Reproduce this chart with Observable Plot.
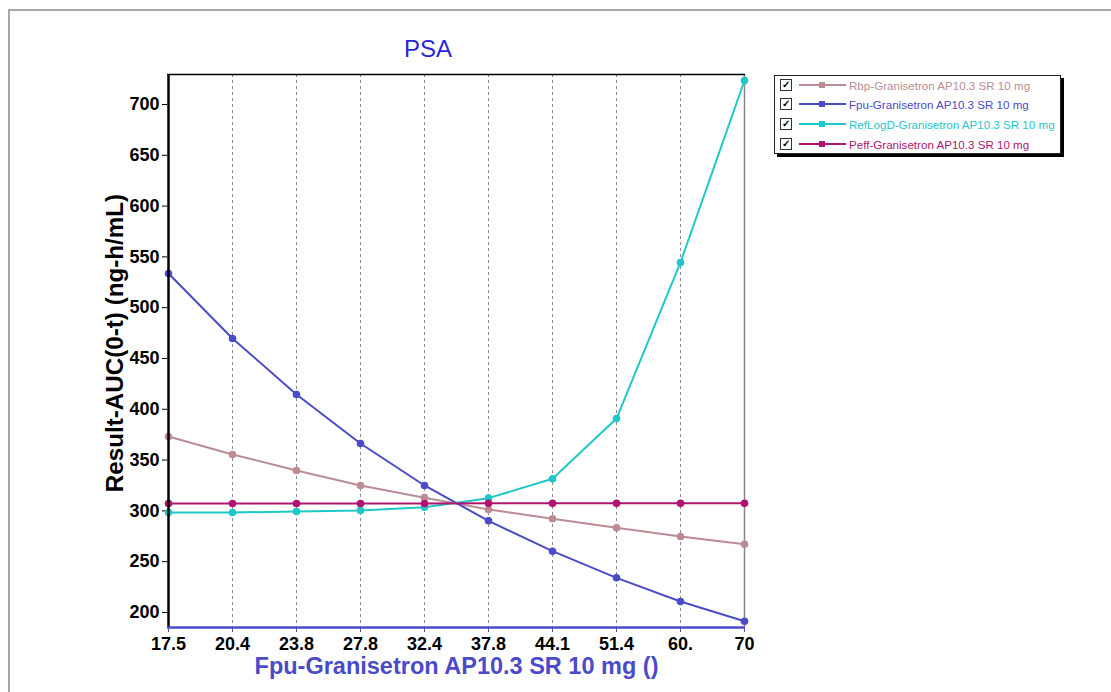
<!DOCTYPE html>
<html>
<head>
<meta charset="utf-8">
<script src="https://cdn.jsdelivr.net/npm/d3@7"></script>
<script src="https://cdn.jsdelivr.net/npm/@observablehq/plot@0.6"></script>
<style>
  html, body { margin: 0; padding: 0; background: #fff; }
  body { width: 1111px; height: 692px; position: relative; overflow: hidden; font-family: "Liberation Sans", Arial, sans-serif; }
  #frame { position: absolute; left: 8px; top: 9px; width: 1200px; height: 800px; border-left: 2px solid #a8a8a8; border-top: 2px solid #a8a8a8; }
  #chart { position: absolute; left: 0; top: 0; }
  #title { position: absolute; left: 328px; width: 200px; top: 35px; text-align: center; font-size: 24px; color: #2828d8; }
  #legend { position: absolute; left: 774px; top: 75px; width: 285px; height: 77px; border: 1px solid #222; background: #fff; box-shadow: 3px 3px 0 #000; font-size: 11.6px; }
  .row { position: absolute; left: 5px; height: 14px; display: flex; align-items: center; }
  .cb { width: 10px; height: 10px; border: 1px solid #333; position: relative; background: #fff; font-size: 10px; line-height: 10px; text-align: center; font-weight: bold; color: #000; }
  .sw { width: 47px; height: 14px; margin-left: 7px; position: relative; }
  .sw .ln { position: absolute; left: 0; right: 0; top: 6px; height: 2px; }
  .sw .mk { position: absolute; left: 20px; top: 4px; width: 6px; height: 6px; }
  .lab { margin-left: 3px; white-space: nowrap; }
</style>
</head>
<body>
<div id="frame"></div>
<div id="chart"></div>
<div id="title">PSA</div>
<div id="legend"></div>
<script>
// ---- data ----
const xValues = [17.5, 20.4, 23.8, 27.8, 32.4, 37.8, 44.1, 51.4, 60, 70];
const xTickLabels = ["17.5", "20.4", "23.8", "27.8", "32.4", "37.8", "44.1", "51.4", "60.", "70"];
const yTicks = [200, 250, 300, 350, 400, 450, 500, 550, 600, 650, 700];
const yDomain = [185.2, 729.5];

const seriesNames = [
  "Rbp-Granisetron AP10.3 SR 10 mg",
  "Fpu-Granisetron AP10.3 SR 10 mg",
  "RefLogD-Granisetron AP10.3 SR 10 mg",
  "Peff-Granisetron AP10.3 SR 10 mg"
];
const seriesColors = ["#bc8c94", "#4b4bc8", "#1ec8c8", "#b0146e"];

const rbpValues = [373.2, 355.5, 339.8, 325.0, 313.0, 301.4, 292.2, 283.4, 274.8, 267.2];
const fpuValues = [533.7, 469.7, 414.6, 366.3, 325.0, 290.2, 260.3, 234.1, 210.8, 191.4];
const refLogDValues = [298.4, 298.4, 299.4, 300.4, 303.6, 312.5, 331.6, 390.9, 544.5, 723.6];
const peffValues = [307.2, 307.2, 307.2, 307.3, 307.3, 307.4, 307.4, 307.4, 307.4, 307.4];

const titleText = "PSA";
const xLabel = "Fpu-Granisetron AP10.3 SR 10 mg ()";
const yLabel = "Result-AUC(0-t) (ng-h/mL)";

// ---- build table ----
const allValues = [rbpValues, fpuValues, refLogDValues, peffValues];
const data = [];
seriesNames.forEach((name, s) => {
  xValues.forEach((x, i) => data.push({series: name, x, y: allValues[s][i]}));
});

const font = "'Liberation Sans', Arial, sans-serif";
const innerX = xValues.slice(1, -1);

const chart = Plot.plot({
  width: 1111,
  height: 692,
  marginLeft: 167,
  marginRight: 366,
  marginTop: 74,
  marginBottom: 65,
  style: {fontFamily: font, background: "transparent", overflow: "visible"},
  x: {type: "point", domain: xValues, padding: 0, label: null},
  y: {domain: yDomain, label: null},
  color: {domain: seriesNames, range: seriesColors},
  marks: [
    Plot.ruleX(innerX, {stroke: "#8a8a8a", strokeWidth: 1, strokeDasharray: "3,3"}),
    Plot.ruleX([xValues[xValues.length - 1]], {stroke: "#888", strokeWidth: 1.5}),
    Plot.ruleY([yDomain[1]], {stroke: "#000", strokeWidth: 1.5}),
    Plot.axisX({
      ticks: xValues,
      tickFormat: (d) => xTickLabels[xValues.indexOf(d)],
      tickSize: 5,
      tickPadding: 5,
      fontSize: 18,
      fontWeight: "bold",
      fill: "#000",
      stroke: "#4b4bc8",
      label: null
    }),
    Plot.axisY({
      ticks: yTicks,
      tickSize: 5,
      tickPadding: 3,
      fontSize: 18,
      fontWeight: "bold",
      fill: "#000",
      stroke: "#000",
      label: null
    }),
    Plot.line(data, {x: "x", y: "y", z: "series", stroke: "series", strokeWidth: 2}),
    Plot.dot(data, {x: "x", y: "y", fill: "series", r: 3.8, symbol: "circle"}),
    Plot.ruleX([xValues[0]], {stroke: "#000", strokeWidth: 2.5}),
    Plot.ruleY([yDomain[0]], {stroke: "#4b4bc8", strokeWidth: 2.5}),
    Plot.text([xLabel], {frameAnchor: "bottom", lineAnchor: "bottom", dy: 46, fontSize: 23.5, fontWeight: "bold", fill: "#4b4bc8", text: d => d}),
    Plot.text([yLabel], {frameAnchor: "left", textAnchor: "middle", dx: -52, dy: -8, rotate: -90, fontSize: 24.2, fontWeight: "bold", fill: "#000", text: d => d})
  ]
});
document.getElementById("chart").appendChild(chart);
document.getElementById("title").textContent = titleText;

// ---- legend ----
const legend = document.getElementById("legend");
const rowTops = [2, 21, 41, 61];
seriesNames.forEach((name, i) => {
  const row = document.createElement("div");
  row.className = "row";
  row.style.top = rowTops[i] + "px";
  row.innerHTML = `<div class="cb">&#10003;</div><div class="sw"><div class="ln" style="background:${seriesColors[i]}"></div><div class="mk" style="background:${seriesColors[i]}"></div></div><div class="lab" style="color:${seriesColors[i]}">${name}</div>`;
  legend.appendChild(row);
});
</script>
</body>
</html>
